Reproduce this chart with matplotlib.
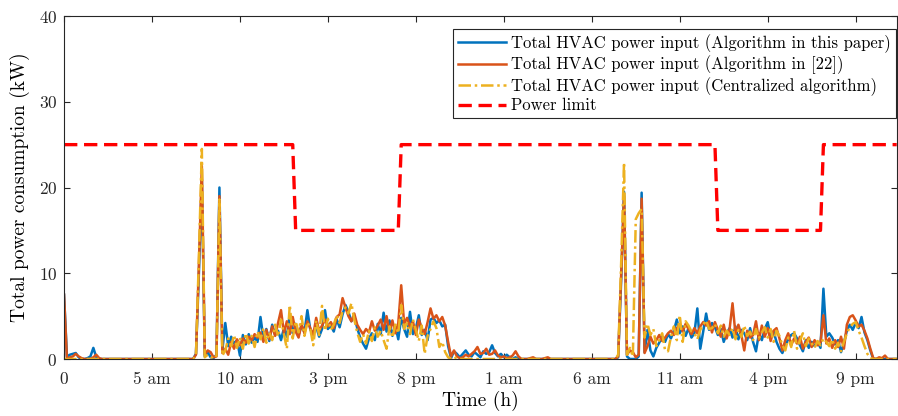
import numpy as np
import matplotlib
matplotlib.use("Agg")
import matplotlib.pyplot as plt

plt.rcParams["font.family"] = "cmr10"
plt.rcParams["mathtext.fontset"] = "cm"
plt.rcParams["axes.formatter.use_mathtext"] = True

# 10-minute samples, one row per hour
p_this_paper = [
    7.5, 0.3, 0.5, 0.6, 0.7, 0.2,
    0.0, 0.0, 0.1, 0.3, 1.3, 0.2,
    0.0, 0.0, 0.0, 0.0, 0.0, 0.0,
    0.0, 0.0, 0.0, 0.0, 0.0, 0.0,
    0.0, 0.0, 0.0, 0.0, 0.0, 0.0,
    0.0, 0.0, 0.0, 0.0, 0.0, 0.0,
    0.0, 0.0, 0.0, 0.0, 0.0, 0.0,
    0.0, 0.0, 0.0, 0.6, 10.0, 21.0,
    0.3, 0.8, 0.2, 0.1, 0.5, 20.0,
    1.0, 4.2, 1.5, 2.6, 1.8, 2.2,
    0.4, 2.8, 1.7, 2.9, 1.9, 2.5,
    2.0, 4.9, 2.4, 3.5, 2.1, 4.0,
    2.8, 3.3, 2.2, 3.6, 2.6, 5.2,
    3.0, 4.1, 2.8, 3.9, 3.1, 5.7,
    3.4, 2.9, 3.8, 2.6, 3.5, 5.7,
    3.5, 3.9, 3.2, 4.6, 3.7, 5.2,
    6.3, 5.5, 4.4, 5.0, 3.6, 2.5,
    1.8, 1.2, 2.4, 3.0, 2.2, 4.1,
    2.9, 5.4, 3.2, 4.5, 2.7, 3.9,
    2.3, 4.8, 3.5, 2.6, 5.5, 2.9,
    3.6, 5.1, 2.8, 3.4, 2.2, 4.6,
    4.8, 4.2, 4.5, 3.8, 4.0, 1.5,
    0.1, 0.9, 0.6, 0.2, 0.6, 1.0,
    0.5, 0.3, 0.8, 0.5, 0.2, 0.9,
    0.6, 0.8, 1.6, 0.7, 0.3, 0.6,
    0.2, 0.5, 0.2, 0.0, 0.2, 0.0,
    0.0, 0.0, 0.0, 0.0, 0.0, 0.0,
    0.0, 0.0, 0.0, 0.0, 0.0, 0.0,
    0.0, 0.0, 0.0, 0.0, 0.0, 0.0,
    0.0, 0.0, 0.0, 0.0, 0.0, 0.0,
    0.0, 0.0, 0.0, 0.0, 0.0, 0.0,
    0.0, 0.0, 0.0, 0.2, 9.0, 19.5,
    0.3, 0.0, 0.0, 0.0, 0.3, 19.4,
    0.8, 3.4, 1.0, 0.3, 1.3, 1.9,
    2.6, 2.0, 2.9, 2.4, 3.3, 4.6,
    3.0, 3.8, 2.7, 3.6, 2.5, 3.0,
    5.9, 1.2, 3.2, 5.3, 3.4, 4.2,
    3.7, 2.8, 3.5, 2.0, 3.0, 3.6,
    2.5, 3.8, 2.3, 3.4, 3.0, 2.2,
    3.6, 2.0, 0.9, 3.0, 2.2, 3.5,
    4.3, 2.4, 3.2, 2.0, 1.2, 0.7,
    1.6, 2.3, 2.8, 3.0, 2.4, 1.6,
    0.9, 2.2, 1.3, 2.0, 1.5, 2.0,
    1.3, 8.2, 2.6, 3.0, 2.5, 1.7,
    2.2, 0.8, 1.9, 3.3, 4.0, 3.4,
    4.2, 3.6, 4.9, 3.1, 2.2, 1.0,
    0.0, 0.0, 0.1, 0.0, 0.0, 0.0,
    0.0, 0.0, 0.0,
]

p_ref22 = [
    7.5, 0.0, 0.2, 0.3, 0.6, 0.3,
    0.1, 0.0, 0.0, 0.0, 0.2, 0.5,
    0.1, 0.0, 0.0, 0.0, 0.0, 0.0,
    0.0, 0.0, 0.0, 0.0, 0.0, 0.0,
    0.0, 0.0, 0.0, 0.0, 0.0, 0.0,
    0.0, 0.0, 0.0, 0.0, 0.0, 0.0,
    0.0, 0.0, 0.0, 0.0, 0.0, 0.0,
    0.0, 0.0, 0.0, 0.5, 11.0, 22.5,
    0.5, 1.0, 0.8, 0.2, 0.3, 19.0,
    0.7, 1.2, 0.5, 2.0, 1.2, 2.3,
    1.6, 2.4, 1.9, 2.6, 2.2, 2.9,
    2.5, 3.1, 2.0, 3.4, 2.3, 3.8,
    2.7, 4.2, 5.7, 3.0, 4.4, 2.9,
    4.9, 3.2, 2.5, 4.1, 3.0, 4.4,
    3.6, 2.8, 4.8, 3.3, 3.9, 4.6,
    3.8, 4.3, 3.6, 4.9, 5.2, 7.1,
    6.0, 5.0, 4.4, 5.3, 4.0, 3.4,
    2.9, 3.5, 3.1, 4.4, 3.3, 3.9,
    4.6, 3.4, 5.0, 3.2, 4.5, 3.0,
    4.2, 8.6, 4.1, 4.8, 3.7, 4.4,
    2.8, 4.6, 3.6, 2.9, 4.3, 5.9,
    4.7, 5.1, 4.4, 4.9, 3.9, 2.0,
    0.3, 1.0, 0.3, 0.1, 0.2, 0.5,
    0.3, 0.6, 0.9, 1.4, 0.6, 0.7,
    1.2, 0.5, 0.6, 1.0, 0.4, 0.2,
    0.3, 0.1, 0.2, 0.4, 0.9, 0.3,
    0.0, 0.0, 0.0, 0.1, 0.2, 0.0,
    0.0, 0.0, 0.1, 0.2, 0.0, 0.0,
    0.0, 0.0, 0.0, 0.0, 0.0, 0.0,
    0.0, 0.0, 0.0, 0.0, 0.0, 0.0,
    0.0, 0.0, 0.0, 0.0, 0.0, 0.0,
    0.0, 0.0, 0.0, 0.3, 9.5, 19.0,
    0.5, 1.0, 0.8, 0.2, 0.5, 18.7,
    0.7, 1.5, 2.6, 1.8, 2.2, 2.8,
    2.1, 2.5, 3.0, 3.3, 2.8, 3.6,
    4.0, 3.2, 4.1, 3.5, 2.9, 3.6,
    3.0, 3.8, 4.3, 3.9, 4.4, 3.1,
    4.3, 3.4, 2.6, 4.0, 2.4, 3.5,
    6.5, 2.9, 4.0, 2.8, 1.0, 3.3,
    2.5, 2.8, 4.4, 2.2, 3.9, 2.6,
    3.6, 2.1, 3.3, 3.6, 2.4, 1.0,
    2.2, 3.0, 1.6, 2.4, 1.8, 2.6,
    1.2, 2.0, 2.5, 1.4, 2.2, 1.6,
    1.9, 5.1, 1.8, 2.4, 1.3, 2.2,
    1.4, 2.6, 1.2, 4.0, 4.9, 5.1,
    4.5, 3.8, 4.0, 3.3, 2.4, 1.2,
    0.1, 0.0, 0.2, 0.1, 0.4, 0.0,
    0.0, 0.0, 0.0,
]

p_central = [
    0.0, 0.0, 0.0, 0.0, 0.0, 0.0,
    0.0, 0.0, 0.0, 0.0, 0.0, 0.0,
    0.0, 0.0, 0.0, 0.0, 0.0, 0.0,
    0.0, 0.0, 0.0, 0.0, 0.0, 0.0,
    0.0, 0.0, 0.0, 0.0, 0.0, 0.0,
    0.0, 0.0, 0.0, 0.0, 0.0, 0.0,
    0.0, 0.0, 0.0, 0.0, 0.0, 0.0,
    0.0, 0.0, 0.0, 0.4, 12.0, 24.5,
    0.2, 0.5, 0.3, 0.0, 0.4, 18.6,
    0.4, 1.0, 2.4, 1.5, 2.8, 1.3,
    2.5, 1.2, 3.0, 1.8, 2.7, 1.4,
    3.2, 2.3, 3.6, 1.9, 3.1, 2.2,
    4.0, 2.6, 4.6, 2.9, 1.2, 6.3,
    2.4, 4.4, 3.1, 5.0, 2.7, 4.3,
    3.5, 1.6, 4.5, 2.8, 6.2, 3.3,
    4.7, 3.4, 4.0, 5.1, 4.2, 5.6,
    6.0, 5.3, 6.5, 4.6, 3.1, 2.0,
    2.9, 1.8, 3.3, 2.1, 3.7, 2.6,
    3.3, 2.2, 1.2, 3.8, 2.5, 4.0,
    3.0, 6.3, 3.5, 4.2, 2.9, 4.6,
    3.4, 2.1, 3.9, 0.6, 2.7, 3.5,
    4.4, 3.6, 1.4, 2.0, 0.8, 0.2,
    0.0, 0.3, 0.0, 0.0, 0.0, 0.0,
    0.0, 0.0, 0.0, 0.0, 0.0, 0.0,
    0.0, 0.0, 0.0, 0.0, 0.0, 0.0,
    0.0, 0.0, 0.0, 0.0, 0.0, 0.0,
    0.0, 0.0, 0.0, 0.0, 0.0, 0.0,
    0.0, 0.0, 0.0, 0.0, 0.0, 0.0,
    0.0, 0.0, 0.0, 0.0, 0.0, 0.0,
    0.0, 0.0, 0.0, 0.0, 0.0, 0.0,
    0.0, 0.0, 0.0, 0.0, 0.0, 0.0,
    0.0, 0.0, 0.0, 0.5, 11.0, 22.9,
    0.5, 1.3, 0.3, 16.3, 17.0, 17.5,
    2.5, 4.1, 2.8, 3.5, 1.5, 2.2,
    3.0, 1.0, 0.9, 2.6, 3.8, 2.2,
    5.1, 2.0, 4.4, 3.9, 3.2, 3.0,
    2.3, 3.4, 4.0, 4.5, 3.5, 3.6,
    4.1, 3.0, 3.9, 2.6, 3.3, 2.8,
    3.6, 2.3, 3.4, 2.6, 3.9, 2.7,
    3.2, 2.2, 3.5, 2.4, 3.1, 3.7,
    2.5, 3.5, 2.0, 3.3, 2.7, 1.6,
    1.0, 2.5, 1.4, 3.3, 1.2, 2.2,
    3.0, 1.5, 2.4, 1.8, 1.3, 2.1,
    1.6, 2.4, 2.0, 1.5, 2.3, 1.2,
    1.9, 0.9, 2.0, 3.0, 3.7, 4.1,
    4.3, 3.3, 2.5, 1.5, 0.6, 0.1,
    0.0, 0.0, 0.0, 0.0, 0.0, 0.0,
    0.0, 0.0, 0.0,
]

# power limit breakpoints (h, kW)
limit_t = [0.0, 13.0, 13.1667, 19.0, 19.1667, 37.0, 37.1667, 43.0, 43.1667, 47.3333]
limit_p = [25, 25, 15, 15, 25, 25, 15, 15, 25, 25]

tick_hours = [0, 5, 10, 15, 20, 25, 30, 35, 40, 45]
tick_labels = ["0", "5 am", "10 am", "3 pm", "8 pm", "1 am", "6 am", "11 am", "4 pm", "9 pm"]

labels = [
    "Total HVAC power input (Algorithm in this paper)",
    "Total HVAC power input (Algorithm in [22])",
    "Total HVAC power input (Centralized algorithm)",
    "Power limit",
]

dt = 1 / 6  # 10 min
t1 = np.arange(len(p_this_paper)) * dt
t2 = np.arange(len(p_ref22)) * dt
t3 = np.arange(len(p_central)) * dt

fig = plt.figure(figsize=(8.98, 4.16), dpi=100)
ax = fig.add_axes([0.0713, 0.137, 0.9276, 0.8245])

ax.plot(t1, p_this_paper, color="#0072BD", lw=1.8, label=labels[0])
ax.plot(t2, p_ref22, color="#D95319", lw=1.8, label=labels[1])
ax.plot(t3, p_central, color="#EDB120", lw=1.8, ls=(0, (5, 1.5, 1, 1.5)), label=labels[2])
ax.plot(limit_t, limit_p, color="#FF0000", lw=2.4, ls=(0, (4, 2)), label=labels[3])

ax.set_xlim(0, 47.35)
ax.set_ylim(0, 40)
ax.set_xticks(tick_hours)
ax.set_xticklabels(tick_labels)
ax.set_yticks([0, 10, 20, 30, 40])
ax.tick_params(direction="in", top=True, right=True, length=4, labelsize=12.5, colors="#262626")
ax.tick_params(axis="x", pad=9)
ax.tick_params(axis="y", pad=5)
for s in ax.spines.values():
    s.set_color("#262626")
    s.set_linewidth(0.8)

ax.set_xlabel("Time (h)", fontsize=14, labelpad=3)
ax.set_ylabel("Total power consumption (kW)", fontsize=14, labelpad=6)

leg = ax.legend(loc="upper right", bbox_to_anchor=(0.9988, 0.961), borderaxespad=0,
                fontsize=12.0, handlelength=2.9, handletextpad=0.3, labelspacing=0.15,
                fancybox=False, framealpha=1, edgecolor="#262626", borderpad=0.3)
leg.get_frame().set_linewidth(0.8)

fig.savefig("out.png", dpi=100)
